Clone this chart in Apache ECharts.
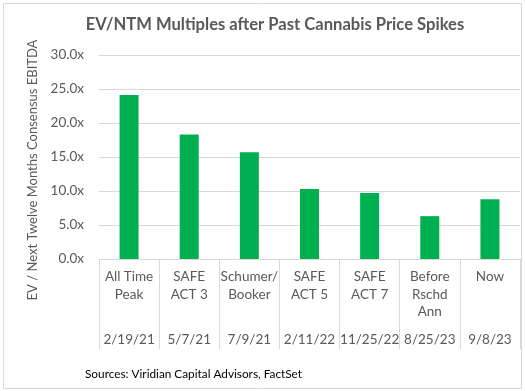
<!DOCTYPE html>
<html><head><meta charset="utf-8">
<script src="https://cdn.jsdelivr.net/npm/echarts@6/dist/echarts.min.js"></script>
<style>html,body{margin:0;padding:0;background:#fff}#c{width:525px;height:391px}</style>
</head><body><div id="c"></div>
<script>
var categories = ['All Time\nPeak', 'SAFE\nACT 3', 'Schumer/\nBooker', 'SAFE\nACT 5', 'SAFE\nACT 7', 'Before\nRschd\nAnn', 'Now'];
var dates = ['2/19/21', '5/7/21', '7/9/21', '2/11/22', '11/25/22', '8/25/23', '9/8/23'];
var multiples = [24.1, 18.3, 15.7, 10.3, 9.7, 6.3, 8.8];
var yTicks = {min: 0, max: 30, interval: 5};

var FONT = 'Lato';
var GREY = '#595959';
var chart = echarts.init(document.getElementById('c'), null, {renderer: 'canvas'});
chart.setOption({
  animation: false,
  textStyle: {fontFamily: FONT},
  grid: {left: 99, right: 5, top: 55, bottom: 132, containLabel: false},
  graphic: [
    {type: 'rect', shape: {x: 3.5, y: 3.5, width: 518, height: 385}, style: {fill: 'none', stroke: '#d9d9d9', lineWidth: 1}, z: -1},
    {type: 'text', x: 275, y: 25, style: {text: 'EV/NTM Multiples after Past Cannabis Price Spikes', fontFamily: FONT, fontWeight: 'bold', fontSize: 16.6, fill: GREY, textAlign: 'center', textVerticalAlign: 'middle'}},
    {type: 'text', x: 33, y: 170, rotation: Math.PI / 2, style: {text: 'EV / Next Twelve Months Consensus EBITDA', fontFamily: FONT, fontSize: 13, fill: GREY, textAlign: 'center', textVerticalAlign: 'middle'}},
    {type: 'text', x: 85, y: 374, style: {text: 'Sources: Viridian Capital Advisors, FactSet', fontFamily: FONT, fontSize: 11.8, fill: '#000', textAlign: 'left', textVerticalAlign: 'middle'}}
  ],
  xAxis: [{
    type: 'category', data: categories, position: 'bottom',
    axisLine: {show: true, lineStyle: {color: '#d9d9d9'}},
    axisTick: {show: true, length: 90, lineStyle: {color: '#d9d9d9'}},
    axisLabel: {margin: 9, fontSize: 13.5, color: GREY, lineHeight: 17.5, interval: 0, fontFamily: FONT}
  }, {
    type: 'category', data: dates, position: 'bottom',
    axisLine: {show: false}, axisTick: {show: false},
    axisLabel: {margin: 72, fontSize: 13.5, color: GREY, lineHeight: 17.5, interval: 0, fontFamily: FONT}
  }],
  yAxis: {
    type: 'value', min: yTicks.min, max: yTicks.max, interval: yTicks.interval,
    axisLine: {show: false}, axisTick: {show: false},
    splitLine: {lineStyle: {color: '#d9d9d9'}},
    axisLabel: {margin: 15, fontSize: 13.5, color: GREY, fontFamily: FONT, formatter: function (v) { return v.toFixed(1) + 'x'; }}
  },
  series: [{
    type: 'bar', data: multiples, xAxisIndex: 0, barWidth: 19,
    itemStyle: {color: '#00B050'}
  }]
});
</script></body></html>
